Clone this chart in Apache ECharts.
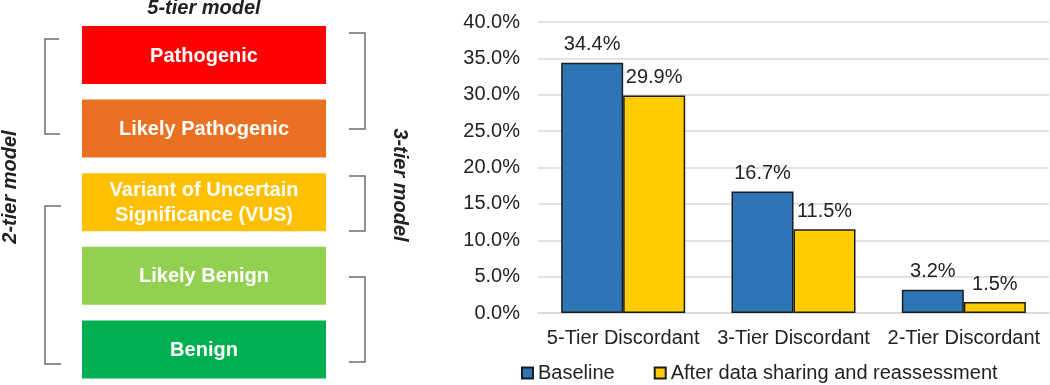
<!DOCTYPE html>
<html>
<head>
<meta charset="utf-8">
<script src="https://cdn.jsdelivr.net/npm/echarts@6/dist/echarts.min.js"></script>
<style>html,body{margin:0;padding:0;background:#fff}#c{width:1050px;height:385px}</style>
</head>
<body>
<div id="c"></div>
<script>
// ---- data ----
const categories = ['5-Tier Discordant', '3-Tier Discordant', '2-Tier Discordant'];
const baseline = [34.4, 16.7, 3.2];
const afterSharing = [29.9, 11.5, 1.5];
const seriesNames = ['Baseline', 'After data sharing and reassessment'];
const tierLabels = ['Pathogenic', 'Likely Pathogenic', 'Variant of Uncertain\nSignificance (VUS)', 'Likely Benign', 'Benign'];
const modelTitles = ['5-tier model', '2-tier model', '3-tier model'];

// ---- styles ----
const FONT = '"Liberation Sans", Arial, sans-serif';
const tierColors = ['#FF0000', '#E97121', '#FFC000', '#92D050', '#00B050'];
const TXT = '#222222';

const chart = echarts.init(document.getElementById('c'), null, {renderer: 'canvas'});

const graphics = [];
const boxX = 82, boxW = 244, boxH = 58, boxY0 = 26, boxStep = 73.6;
tierLabels.forEach((lab, i) => {
  const y = boxY0 + i * boxStep;
  graphics.push({type: 'rect', shape: {x: boxX, y: y, width: boxW, height: boxH}, style: {fill: tierColors[i]}, silent: true});
  graphics.push({type: 'text', x: boxX + boxW / 2, y: y + boxH / 2 + 1, style: {text: lab, fill: '#fff', font: 'bold 20px ' + FONT, align: 'center', verticalAlign: 'middle', lineHeight: 25}, silent: true});
});
const br = {stroke: '#6b6b6b', lineWidth: 1.5, fill: null};
// left brackets
graphics.push({type: 'polyline', shape: {points: [[59, 39], [45, 39], [45, 134], [60, 134]]}, style: br, silent: true});
graphics.push({type: 'polyline', shape: {points: [[61, 206], [45, 206], [45, 364], [61, 364]]}, style: br, silent: true});
// right brackets
graphics.push({type: 'polyline', shape: {points: [[349, 33], [365, 33], [365, 129], [349, 129]]}, style: br, silent: true});
graphics.push({type: 'polyline', shape: {points: [[349, 176], [365, 176], [365, 231], [349, 231]]}, style: br, silent: true});
graphics.push({type: 'polyline', shape: {points: [[349, 277], [365, 277], [365, 362], [349, 362]]}, style: br, silent: true});
// titles
graphics.push({type: 'text', x: 204, y: 8, style: {text: modelTitles[0], fill: TXT, font: 'italic bold 20px ' + FONT, align: 'center', verticalAlign: 'middle'}, silent: true});
graphics.push({type: 'text', x: 10, y: 187, rotation: Math.PI / 2, style: {text: modelTitles[1], fill: TXT, font: 'italic bold 20px ' + FONT, align: 'center', verticalAlign: 'middle'}, silent: true});
graphics.push({type: 'text', x: 400, y: 185, rotation: -Math.PI / 2, style: {text: modelTitles[2], fill: TXT, font: 'italic bold 20px ' + FONT, align: 'center', verticalAlign: 'middle'}, silent: true});

const labelCfg = {show: true, position: 'top', distance: 8, color: TXT, fontSize: 20, fontFamily: FONT, formatter: p => p.value.toFixed(1) + '%'};

chart.setOption({
  animation: false,
  textStyle: {fontFamily: FONT},
  grid: {left: 538, right: 1, top: 22, bottom: 72},
  legend: {
    data: seriesNames, left: 516, top: 358, icon: 'rect', itemWidth: 11, itemHeight: 11, itemGap: 39,
    textStyle: {color: TXT, fontSize: 20, fontFamily: FONT}
  },
  xAxis: {
    type: 'category', data: categories,
    axisLine: {show: true, lineStyle: {color: '#d9d9d9', width: 1.5}},
    axisTick: {show: false},
    axisLabel: {color: TXT, fontSize: 20, fontFamily: FONT, margin: 15, interval: 0}
  },
  yAxis: {
    type: 'value', min: 0, max: 40, interval: 5,
    axisLine: {show: false}, axisTick: {show: false},
    splitLine: {lineStyle: {color: '#d9d9d9', width: 1.5}},
    axisLabel: {color: TXT, fontSize: 20, fontFamily: FONT, margin: 18, formatter: v => v.toFixed(1) + '%'}
  },
  series: [
    {name: seriesNames[0], type: 'bar', data: baseline, barWidth: 62, barGap: '0%',
     itemStyle: {color: '#2E75B6', borderColor: '#1c1c1c', borderWidth: 1.5}, label: labelCfg},
    {name: seriesNames[1], type: 'bar', data: afterSharing, barWidth: 62, barGap: '0%',
     itemStyle: {color: '#FFCC00', borderColor: '#1c1c1c', borderWidth: 1.5}, label: labelCfg}
  ],
  graphic: graphics
});
</script>
</body>
</html>
